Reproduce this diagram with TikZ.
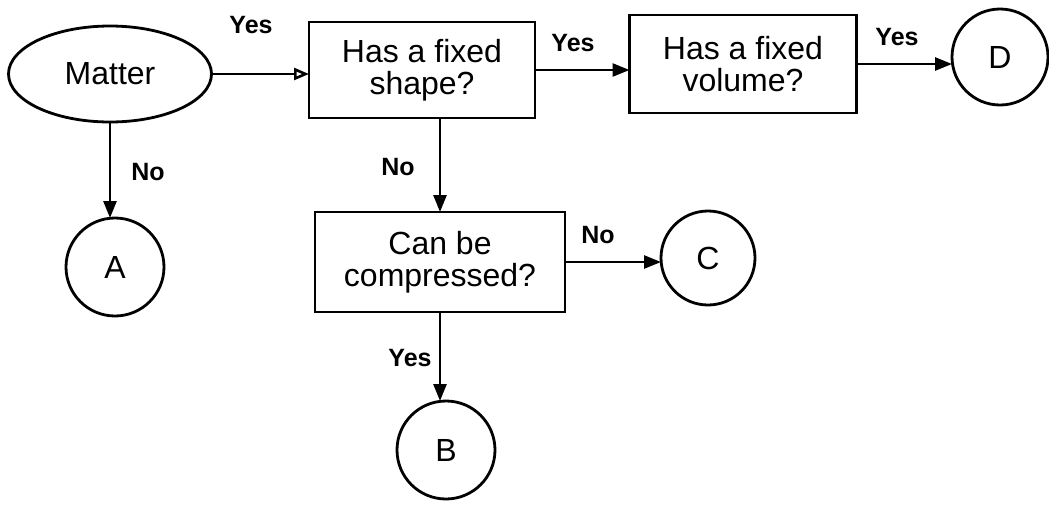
\documentclass[tikz,border=0pt]{standalone}
\usepackage{fontspec}
\setmainfont{Liberation Sans}
\usetikzlibrary{shapes.geometric,arrows.meta}
\begin{document}
\begin{tikzpicture}[x=1pt,y=-1pt,
  every node/.style={inner sep=0pt, outer sep=0pt},
  txt/.style={font=\fontsize{32}{32}\selectfont, align=center},
  ell/.style={txt, draw, line width=2.8pt, ellipse},
  box/.style={txt, draw, line width=2.8pt, rectangle},
  circ/.style={txt, draw, line width=2.8pt, circle},
  lbl/.style={font=\fontsize{25}{26}\selectfont\bfseries},
  arr/.style={line width=2.6pt, -{Triangle[length=17pt,width=13pt]}},
  oarr/.style={line width=2.6pt, -{Triangle[open,length=15pt,width=12pt,fill=white]}}
]
\useasboundingbox (0,0) rectangle (1049,507);
\node[ell, minimum width=203pt, minimum height=96pt] (matter) at (110,74) {Matter};
\node[box, minimum width=226pt, minimum height=96pt] (shape) at (422,70) {Has a fixed\\shape?};
\node[box, minimum width=227pt, minimum height=98pt] (volume) at (743,64) {Has a fixed\\volume?};
\node[circ, minimum size=96pt] (D) at (1000,57) {D};
\node[circ, minimum size=98pt] (A) at (115,267) {A};
\node[box, minimum width=250pt, minimum height=100pt] (compress) at (440,262) {Can be\\compressed?};
\node[circ, minimum size=94pt] (C) at (708,258) {C};
\node[circ, minimum size=98pt] (B) at (446,450) {B};

\draw[oarr] (matter.east) -- (matter.east -| shape.west);
\draw[arr] (shape.east) -- (shape.east -| volume.west);
\draw[arr] (volume.east) -- (volume.east -| D.west);
\draw[arr] (matter.south) -- (matter.south |- A.north);
\draw[arr] (shape.south -| compress.north) -- (compress.north);
\draw[arr] (compress.east) -- (compress.east -| C.west);
\draw[arr] (compress.south) -- (compress.south |- B.north);

\node[lbl] (l1) at (251,25) {Yes};
\node[lbl] (l2) at (573,43) {Yes};
\node[lbl] (l3) at (897,37) {Yes};
\node[lbl] (l4) at (148,172) {No};
\node[lbl] (l5) at (398,167) {No};
\node[lbl] (l6) at (598,235) {No};
\node[lbl] (l7) at (410,358) {Yes};
\end{tikzpicture}
\end{document}
